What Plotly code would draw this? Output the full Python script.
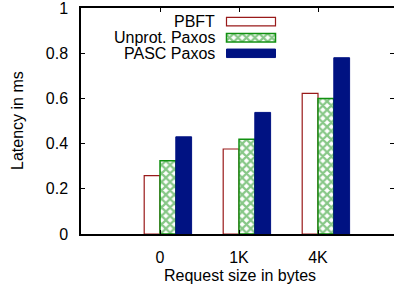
import plotly.graph_objects as go

categories = ["0", "1K", "4K"]
series_names = ["PBFT", "Unprot. Paxos", "PASC Paxos"]
pbft = [0.258, 0.376, 0.622]
unprot = [0.324, 0.419, 0.600]
pasc = [0.430, 0.538, 0.780]
y_ticks = [0, 0.2, 0.4, 0.6, 0.8, 1]
y_tick_labels = ["0", "0.2", "0.4", "0.6", "0.8", "1"]

RED = "#991a1a"
GREEN = "#109010"
BLUE = "#001282"
FONT = dict(family="Liberation Sans, Arial, sans-serif", size=16, color="black")

W, H = 394, 288
L, R, T, B = 81, 0, 8, 54
PW, PH = W - L - R, H - T - B

xs = list(range(len(categories)))
fig = go.Figure()
styles = [
    dict(marker=dict(color="white", line=dict(color=RED, width=1.2))),
    dict(marker=dict(color="white", line=dict(color=GREEN, width=1.5),
                     pattern=dict(shape="x", fgcolor=GREEN, bgcolor="white", size=6, solidity=0.6))),
    dict(marker=dict(color=BLUE, line=dict(color=BLUE, width=1))),
]
offsets = [-0.2, 0.0, 0.2]
for name, vals, st, off in zip(series_names, [pbft, unprot, pasc], styles, offsets):
    fig.add_trace(go.Bar(x=xs, y=vals, name=name, width=0.2, offset=off,
                         showlegend=False, **st))

# manual legend (text right-aligned, swatch to the right) on pixel-based overlay axes
leg_text_right = 217 - L
sw_left = 226.5 - L
sw_len = 49
row_centers = [21.7 - T, 37.8 - T, 53.3 - T]
for name, st, yc in zip(series_names, styles, row_centers):
    fig.add_trace(go.Bar(x=[sw_len], y=[yc], base=[sw_left], orientation="h", width=8.5,
                         xaxis="x2", yaxis="y2", showlegend=False, hoverinfo="skip", **st))
    fig.add_annotation(x=leg_text_right, y=yc, xref="x2", yref="y2", text=name,
                       showarrow=False, xanchor="right", yanchor="middle", font=FONT)

fig.add_annotation(x=(239.5 - L) / PW, y=-(275 - T - PH) / PH, xref="paper", yref="paper",
                   text="Request size in bytes", showarrow=False, xanchor="center",
                   yanchor="middle", font=FONT)
fig.add_annotation(x=(17 - L) / PW, y=0.5, xref="paper", yref="paper",
                   text="Latency in ms", showarrow=False, textangle=-90,
                   xanchor="center", yanchor="middle", font=FONT)

fig.update_layout(
    width=W, height=H, margin=dict(l=L, r=R, t=T, b=B, autoexpand=False),
    paper_bgcolor="white", plot_bgcolor="white", font=FONT,
    barmode="overlay", showlegend=False,
    xaxis=dict(range=[-1, 2.962], tickvals=xs, ticktext=categories, ticks="inside",
               ticklen=4, tickcolor="black", showline=True, linecolor="black",
               linewidth=1.5, mirror="ticks", showgrid=False, zeroline=False,
               ticklabelstandoff=8, tickfont=FONT, automargin=False,
               ticklabeloverflow="allow"),
    yaxis=dict(range=[0, 1], tickvals=y_ticks, ticktext=y_tick_labels, ticks="inside",
               ticklen=4, tickcolor="black", showline=True, linecolor="black",
               linewidth=1.5, mirror="ticks", showgrid=False, zeroline=False,
               ticklabelstandoff=8, tickfont=FONT, automargin=False,
               ticklabeloverflow="allow"),
    xaxis2=dict(range=[0, PW], overlaying="x", visible=False, fixedrange=True, automargin=False),
    yaxis2=dict(range=[PH, 0], overlaying="y", visible=False, fixedrange=True, automargin=False),
)
fig.write_html("out.html", config={"displayModeBar": False},
               post_script="document.body.style.margin='0';document.body.style.overflow='hidden';")
